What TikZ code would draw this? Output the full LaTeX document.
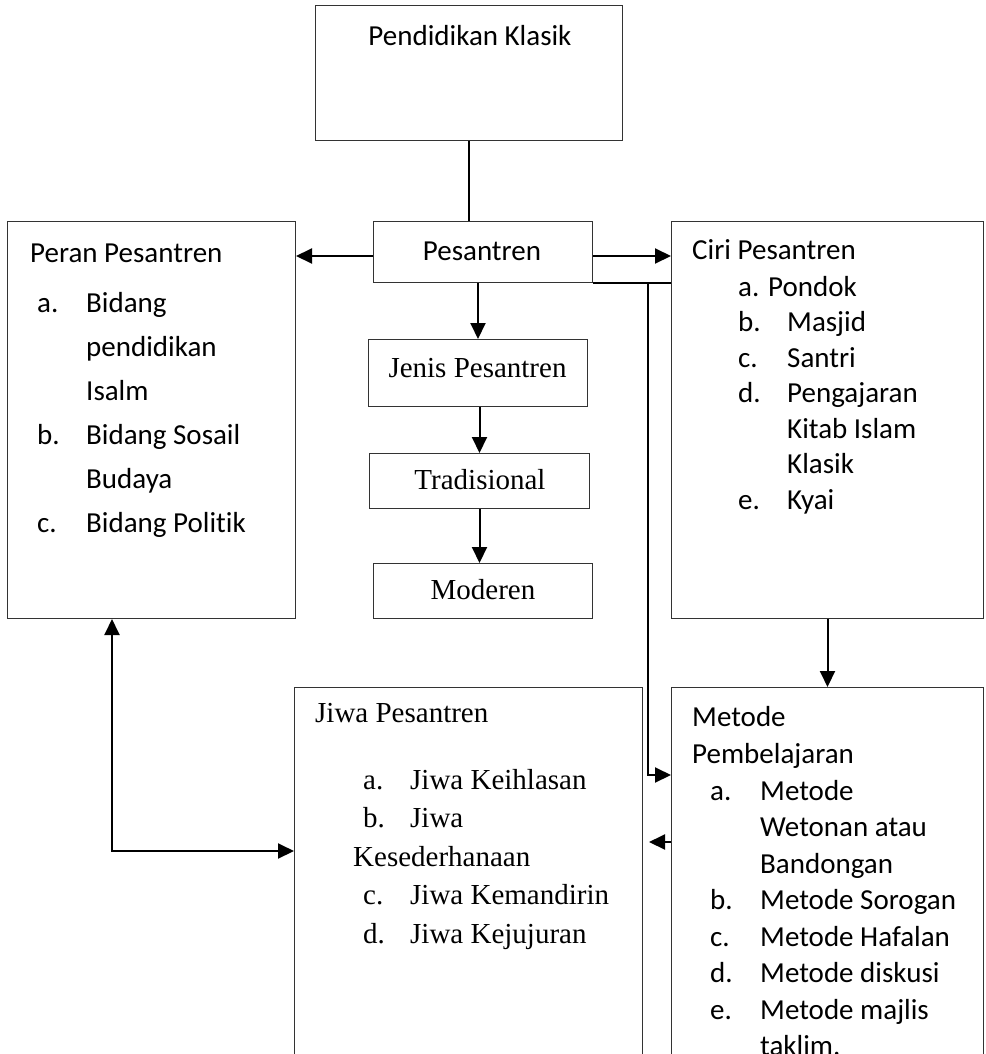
\documentclass[tikz,border=0pt]{standalone}
\usepackage{fontspec}
\newfontfamily\calfont[Ligatures={NoCommon}]{Carlito}
\newfontfamily\tmsfont{Liberation Serif}
\usetikzlibrary{arrows.meta}
\begin{document}
\begin{tikzpicture}[x=1pt,y=-1pt,
  box/.style={draw=black!80, line width=1pt, anchor=north west, inner sep=0pt},
  arr/.style={-{Triangle[length=16pt,width=15pt]}, line width=2pt},
  darr/.style={{Triangle[length=16pt,width=15pt]}-{Triangle[length=16pt,width=15pt]}, line width=2pt},
  cl/.style={anchor=base west, inner sep=0pt, font={\calfont\fontsize{29pt}{35pt}\selectfont}},
  tl/.style={anchor=base west, inner sep=0pt, font={\tmsfont\fontsize{29pt}{35pt}\selectfont}},
  cc/.style={anchor=base, inner sep=0pt, font={\calfont\fontsize{29pt}{35pt}\selectfont}},
  tc/.style={anchor=base, inner sep=0pt, font={\tmsfont\fontsize{29pt}{35pt}\selectfont}}]
\clip (0,0) rectangle (985,1054);
\fill[white] (0,0) rectangle (985,1054);

% boxes
\node[box, minimum width=307pt, minimum height=135pt] (klasik) at (315,5) {};
\node[box, minimum width=219pt, minimum height=61pt] (pes) at (373,221) {};
\node[box, minimum width=288pt, minimum height=397pt] (peran) at (7,221) {};
\node[box, minimum width=312pt, minimum height=397pt] (ciri) at (671,221) {};
\node[box, minimum width=219pt, minimum height=67pt] (jenis) at (368,339) {};
\node[box, minimum width=220pt, minimum height=55pt] (trad) at (369,453) {};
\node[box, minimum width=219pt, minimum height=55pt] (mod) at (373,563) {};
\node[box, minimum width=348pt, minimum height=420pt] (jiwa) at (294,687) {};
\node[box, minimum width=312pt, minimum height=420pt] (met) at (671,687) {};

% centred texts
\node[cc] (tklasik) at (470,46) {Pendidikan Klasik};
\node[cc] (tpes) at (482,260) {Pesantren};
\node[tc] (tjenis) at (477.5,377) {Jenis Pesantren};
\node[tc] (ttrad) at (480,489.5) {Tradisional};
\node[tc] (tmod) at (483,599.5) {Moderen};

% Peran
\node[cl] (pr0) at (30,262) {Peran Pesantren};
\node[cl] (pra) at (37,312) {a.};
\node[cl] (pr1) at (86,312) {Bidang};
\node[cl] (pr2) at (86,356) {pendidikan};
\node[cl] (pr3) at (86,400) {Isalm};
\node[cl] (prb) at (37,444) {b.};
\node[cl] (pr4) at (86,444) {Bidang Sosail};
\node[cl] (pr5) at (86,488) {Budaya};
\node[cl] (prc) at (37,532) {c.};
\node[cl] (pr6) at (86,532) {Bidang Politik};

% Ciri
\node[cl] (c0) at (692,259) {Ciri Pesantren};
\node[cl] (ca) at (738,296) {a. Pondok};
\node[cl] (cb) at (738,331.5) {b.};
\node[cl] (c1) at (787,331.5) {Masjid};
\node[cl] (cc1) at (738,367) {c.};
\node[cl] (c2) at (787,367) {Santri};
\node[cl] (cd) at (738,402.5) {d.};
\node[cl] (c3) at (787,402.5) {Pengajaran};
\node[cl] (c4) at (787,438) {Kitab Islam};
\node[cl] (c5) at (787,473.5) {Klasik};
\node[cl] (ce) at (738,509) {e.};
\node[cl] (c6) at (787,509) {Kyai};

% Jiwa
\node[tl] (j0) at (315,722) {Jiwa Pesantren};
\node[tl] (ja) at (363,789) {a.};
\node[tl] (j1) at (410,789) {Jiwa Keihlasan};
\node[tl] (jb) at (363,827.5) {b.};
\node[tl] (j2) at (410,827.5) {Jiwa};
\node[tl] (j3) at (353,866) {Kesederhanaan};
\node[tl] (jc) at (363,904.5) {c.};
\node[tl] (j4) at (410,904.5) {Jiwa Kemandirin};
\node[tl] (jd) at (363,943) {d.};
\node[tl] (j5) at (410,943) {Jiwa Kejujuran};

% Metode
\node[cl] (m0) at (692,726) {Metode};
\node[cl] (m1) at (692,763) {Pembelajaran};
\node[cl] (ma) at (710,800) {a.};
\node[cl] (m2) at (760,800) {Metode};
\node[cl] (m3) at (760,836.5) {Wetonan atau};
\node[cl] (m4) at (760,873) {Bandongan};
\node[cl] (mb) at (710,909.5) {b.};
\node[cl] (m5) at (760,909.5) {Metode Sorogan};
\node[cl] (mc) at (710,946) {c.};
\node[cl] (m6) at (760,946) {Metode Hafalan};
\node[cl] (md) at (710,982.5) {d.};
\node[cl] (m7) at (760,982.5) {Metode diskusi};
\node[cl] (me) at (710,1019) {e.};
\node[cl] (m8) at (760,1019) {Metode majlis};
\node[cl] (m9) at (760,1055.5) {taklim.};

% connectors
\draw[line width=1.5pt] (klasik.south) -- (klasik.south |- pes.north);
\draw[arr] (pes.west |- 0,256) -- (peran.east |- 0,256);
\draw[arr] (pes.east |- 0,256) -- (ciri.west |- 0,256);
\draw[line width=1.5pt] (pes.south east) -- (ciri.west |- pes.south east);
\coordinate (vj) at (648,282);
\coordinate (vb) at (648,775);
\draw[arr] (vj) -- (vb) -- (met.west |- vb);
\draw[arr] (jenis.north |- pes.south) -- (jenis.north);
\draw[arr] (trad.north |- jenis.south) -- (trad.north);
\draw[arr] (trad.south) -- (trad.south |- mod.north);
\draw[arr] (ciri.south) -- (met.north);
\coordinate (pj) at (112,851);
\draw[darr] (peran.south -| pj) -- (pj) -- (jiwa.west |- pj);
\coordinate (stub) at (649,842);
\draw[arr] (met.west |- stub) -- (stub);
\end{tikzpicture}
\end{document}
